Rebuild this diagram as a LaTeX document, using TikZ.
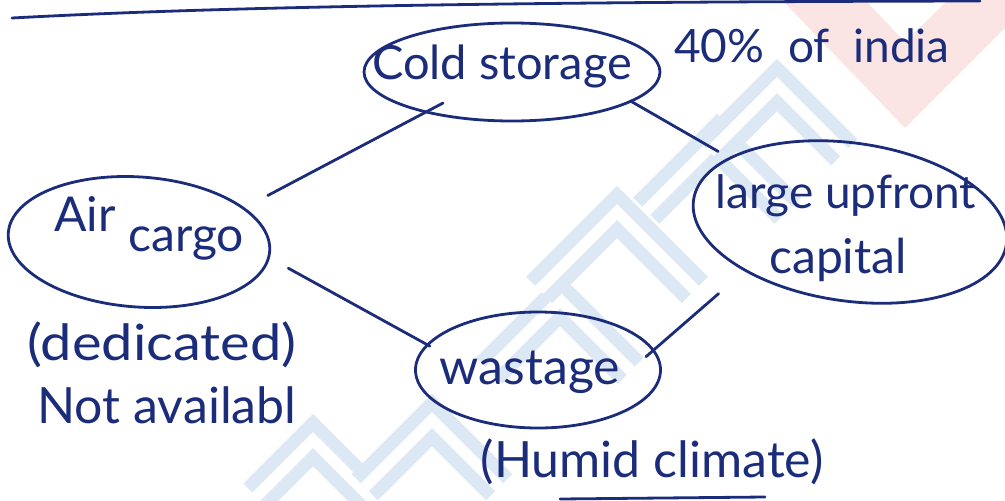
\documentclass[tikz,border=0pt]{standalone}
\usepackage{fontspec}
\setmainfont{Lato}
\usetikzlibrary{shapes.geometric}
\definecolor{ink}{HTML}{1B2C7A}
\definecolor{wmblue}{HTML}{DCE8F4}
\definecolor{wmred}{HTML}{FBE4E4}
\begin{document}
\begin{tikzpicture}[x=1pt,y=-1pt,
  bubble/.style={draw=ink, line width=2.8pt, ellipse, inner sep=0pt},
  hand/.style={text=ink, inner sep=0pt, font=\fontsize{50}{56}\selectfont},
  link/.style={draw=ink, line width=2.8pt, line cap=round},
  chevron/.style={draw=wmblue, line width=13pt, double=white, double distance=11pt, line join=miter}]
\useasboundingbox (0,0) rectangle (1005,501);

% faint background marks
\fill[wmred] (782,0) -- (905,128) -- (1005,28) -- (1005,0) -- (948,0) -- (905,42) -- (865,0) -- cycle;
\foreach \ax/\ay/\l in {313/440/80, 432/420/95, 560/300/100, 617/212/110, 717/140/100, 777/85/95}{
  \draw[chevron] ({\ax-0.707*\l},{\ay+0.707*\l}) -- (\ax,\ay) -- ({\ax+0.707*\l},{\ay+0.707*\l});
}

% header rule
\coordinate (ruleL) at (12,18);
\coordinate (ruleR) at (980,1);
\draw[link] (ruleL) .. controls (180,9) and (420,2) .. (ruleR);

% bubbles
\node[bubble, minimum width=296pt, minimum height=98pt] (cold) at (512,72) {};
\node[bubble, minimum width=316pt, minimum height=158pt, rotate=-8] (big) at (850,222) {};
\node[bubble, minimum width=262pt, minimum height=130pt, rotate=-4] (air) at (139,242) {};
\node[bubble, minimum width=245pt, minimum height=116pt] (waste) at (538,370) {};

% bubble texts
\node[hand, font=\fontsize{47}{52}\selectfont] (coldT) at (502,66) {Cold storage};
\node[hand, font=\fontsize{46}{52}\selectfont] (pct) at (812,46) {40\%\ \ of\ \ india};
\node[hand, font=\fontsize{46}{52}\selectfont] (bigT1) at (846,196) {large upfront};
\node[hand, font=\fontsize{48}{52}\selectfont] (bigT2) at (838,260) {capital};
\node[hand, font=\fontsize{48}{52}\selectfont] (airT1) at (85,214) {Air};
\node[hand, font=\fontsize{48}{52}\selectfont] (airT2) at (186,244) {cargo};
\node[hand] (wasteT) at (530,372) {wastage};

% side notes
\node[hand, xscale=1.12] (ded) at (162,345) {(dedicated)};
\node[hand] (nav) at (167,405) {Not availabl};
\node[hand] (humid) at (652,462) {(Humid climate)};
\coordinate (ulL) at (560,499);
\coordinate (ulR) at (765,497);
\draw[link] (ulL) -- (ulR);

% connectors
\draw[link, shorten <=-21pt, shorten >=26pt] (cold.205) -- (air.22);
\draw[link, shorten <=-2pt, shorten >=12pt] (cold.346) -- (big.160);
\draw[link, shorten <=21pt, shorten >=-4pt] (air.357) -- (waste.167);
\draw[link, shorten <=-11pt, shorten >=34pt] (waste.10) -- (big.213);
\end{tikzpicture}
\end{document}
